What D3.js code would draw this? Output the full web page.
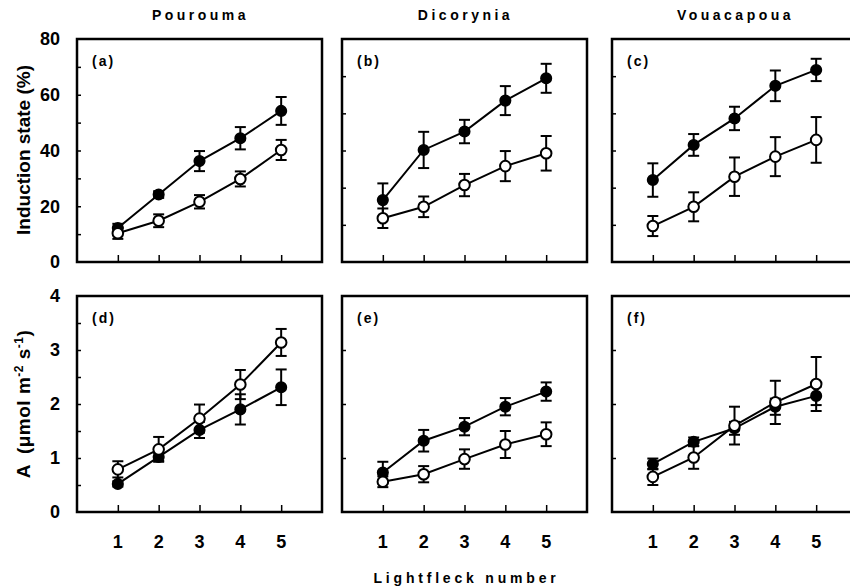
<!DOCTYPE html>
<meta charset="utf-8">
<style>
body { margin: 0; background: #fff; }
svg { display: block; font-family: "Liberation Sans", Arial, sans-serif; font-weight: bold; }
.frame { fill: none; stroke: #000; stroke-width: 2.5; }
.tick line { stroke: #000; stroke-width: 1.5; }
.series { fill: none; stroke: #000; stroke-width: 2; }
.err { stroke: #000; stroke-width: 2; }
.dot-filled { fill: #000; stroke: #000; stroke-width: 1.5; }
.dot-open { fill: #fff; stroke: #000; stroke-width: 2; }
</style>
<body>
<svg width="850" height="587"></svg>
<script src="https://d3js.org/d3.v7.min.js"></script>
<script>

const species = ["Pourouma", "Dicorynia", "Vouacapoua"];
const lightfleck = [1, 2, 3, 4, 5];
const topLetters = ["(a)", "(b)", "(c)"];
const bottomLetters = ["(d)", "(e)", "(f)"];

// induction state (%), filled = closed symbols, open = open symbols
const indFilled = [[12.2, 24.2, 36.2, 44.4, 54.2], [22.2, 40.2, 46.8, 57.9, 65.9], [29.4, 42.0, 51.5, 63.2, 68.9]];
const indFilledErr = [[1.5, 1.2, 3.6, 4.0, 5.0], [6.0, 6.5, 4.2, 5.2, 5.2], [6.0, 3.9, 4.2, 5.5, 4.0]];
const indOpen = [[10.3, 14.8, 21.6, 29.8, 40.2], [15.7, 19.8, 27.6, 34.4, 39.0], [12.9, 19.8, 30.6, 37.8, 43.8]];
const indOpenErr = [[2.0, 2.3, 2.4, 2.7, 3.6], [3.5, 3.7, 4.0, 5.4, 6.2], [3.6, 5.2, 6.9, 7.0, 8.2]];

// assimilation A (umol m-2 s-1)
const aFilled = [[0.52, 1.02, 1.52, 1.90, 2.31], [0.73, 1.32, 1.58, 1.95, 2.23], [0.89, 1.30, 1.55, 1.95, 2.15]];
const aFilledErr = [[0.05, 0.07, 0.15, 0.28, 0.33], [0.20, 0.20, 0.16, 0.16, 0.17], [0.10, 0.08, 0.12, 0.15, 0.17]];
const aOpen = [[0.79, 1.16, 1.73, 2.36, 3.14], [0.56, 0.70, 0.98, 1.25, 1.44], [0.65, 1.01, 1.60, 2.03, 2.37]];
const aOpenErr = [[0.15, 0.23, 0.26, 0.27, 0.25], [0.10, 0.15, 0.18, 0.25, 0.22], [0.15, 0.21, 0.35, 0.40, 0.50]];

const colX = [77, 342, 612];
const panelW = 245;
const rows = [
  { top: 39, bottom: 262, max: 80, filled: indFilled, filledErr: indFilledErr, open: indOpen, openErr: indOpenErr,
    letters: topLetters, labelTicks: [0, 20, 40, 60, 80] },
  { top: 296, bottom: 512, max: 4, filled: aFilled, filledErr: aFilledErr, open: aOpen, openErr: aOpenErr,
    letters: bottomLetters, labelTicks: [0, 1, 2, 3, 4] }
];

const svg = d3.select("svg");

function drawPanel(row, r, c) {
  const x = d3.scaleLinear().domain([0, 6]).range([colX[c], colX[c] + panelW]);
  const y = d3.scaleLinear().domain([0, row.max]).range([row.bottom, row.top]);
  const g = svg.append("g");

  // inward ticks
  let yt;
  if (r === 0) yt = c === 0 ? d3.range(10, 80, 10) : d3.range(1, 6).map(k => k * 80 / 6);
  else yt = c === 0 ? d3.range(0.5, 4, 0.5) : [1, 2, 3];
  g.append("g").attr("class", "tick")
    .attr("transform", "translate(" + colX[c] + ",0)")
    .call(d3.axisRight(y).tickValues(yt).tickSize(4).tickFormat(""))
    .call(a => a.select(".domain").remove());
  g.append("g").attr("class", "tick")
    .attr("transform", "translate(0," + row.bottom + ")")
    .call(d3.axisTop(x).tickValues(lightfleck).tickSize(7).tickFormat(""))
    .call(a => a.select(".domain").remove());
  g.selectAll(".tick line").attr("stroke", "#000").attr("stroke-width", 1.5);

  g.append("rect").attr("class", "frame")
    .attr("x", colX[c]).attr("y", row.top)
    .attr("width", panelW).attr("height", row.bottom - row.top);

  if (c === 0) {
    g.selectAll(".ylab").data(row.labelTicks).enter().append("text")
      .attr("x", 60).attr("y", d => y(d)).attr("dy", "0.36em")
      .attr("text-anchor", "end").style("font-size", "18px")
      .text(d => d);
  }
  if (r === 1) {
    g.selectAll(".xlab").data(lightfleck).enter().append("text")
      .attr("x", d => x(d)).attr("y", 548)
      .attr("text-anchor", "middle").style("font-size", "18px")
      .text(d => d);
  }

  g.append("text").attr("x", colX[c] + 15).attr("y", row.top + 27)
    .style("font-size", "14px").style("letter-spacing", "2px")
    .text(row.letters[c]);

  const line = d3.line().x((d, i) => x(lightfleck[i])).y(d => y(d));
  const sets = [
    { vals: row.filled[c], errs: row.filledErr[c], cls: "dot-filled" },
    { vals: row.open[c], errs: row.openErr[c], cls: "dot-open" }
  ];
  sets.forEach(s => {
    g.append("path").datum(s.vals).attr("class", "series").attr("d", line);
  });
  sets.forEach(s => {
    const eg = g.append("g");
    s.vals.forEach((v, i) => {
      const cx = x(lightfleck[i]), hi = y(v + s.errs[i]), lo = y(v - s.errs[i]);
      eg.append("line").attr("class", "err").attr("x1", cx).attr("x2", cx).attr("y1", hi).attr("y2", lo);
      eg.append("line").attr("class", "err").attr("x1", cx - 5.5).attr("x2", cx + 5.5).attr("y1", hi).attr("y2", hi);
      eg.append("line").attr("class", "err").attr("x1", cx - 5.5).attr("x2", cx + 5.5).attr("y1", lo).attr("y2", lo);
    });
  });
  sets.forEach(s => {
    g.selectAll("." + s.cls + "-" + r + c).data(s.vals).enter().append("circle")
      .attr("class", s.cls)
      .attr("cx", (d, i) => x(lightfleck[i])).attr("cy", d => y(d)).attr("r", 5.3);
  });
}

rows.forEach((row, r) => colX.forEach((cx, c) => drawPanel(row, r, c)));

// species titles
svg.selectAll(".title").data(species).enter().append("text")
  .attr("x", (d, i) => colX[i] + panelW / 2 + 1).attr("y", 20)
  .attr("text-anchor", "middle").style("font-size", "14px").style("letter-spacing", "3.5px")
  .text(d => d);

// x title
svg.append("text").attr("x", colX[1] + panelW / 2 + 2).attr("y", 583)
  .attr("text-anchor", "middle").style("font-size", "14px").style("letter-spacing", "3.8px")
  .text("Lightfleck number");

// y titles
svg.append("text").attr("transform", "translate(30,150) rotate(-90)")
  .attr("text-anchor", "middle").style("font-size", "19px")
  .text("Induction state (%)");

const ya = svg.append("text").attr("transform", "translate(30,404) rotate(-90)")
  .attr("text-anchor", "middle").style("font-size", "19px").style("letter-spacing", "0.5px");
ya.append("tspan").text("A");
ya.append("tspan").attr("dx", 10).text("(μmol m");
ya.append("tspan").attr("dy", -7).style("font-size", "12px").text("-2");
ya.append("tspan").attr("dy", 7).text(" s");
ya.append("tspan").attr("dy", -7).style("font-size", "12px").text("-1");
ya.append("tspan").attr("dy", 7).text(")");

</script>
</body>
